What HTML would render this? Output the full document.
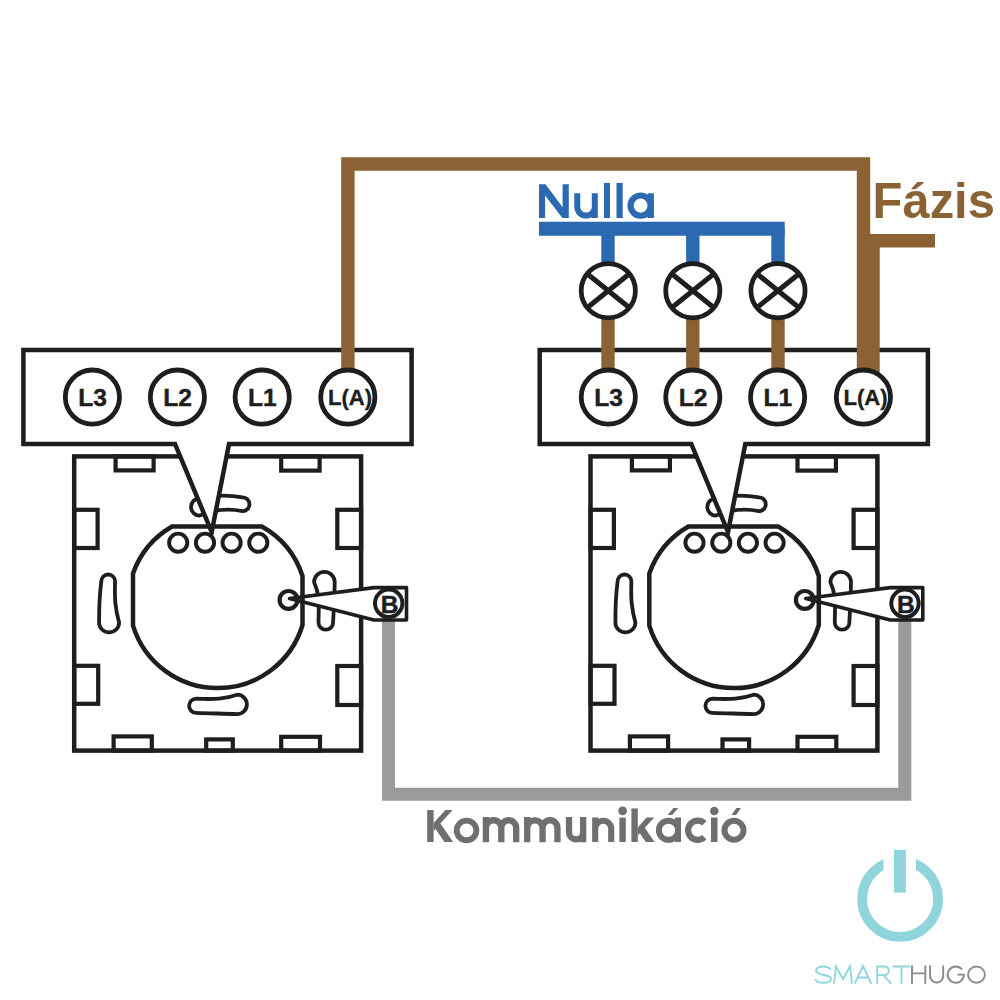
<!DOCTYPE html>
<html><head><meta charset="utf-8"><style>
html,body{margin:0;padding:0;background:#fff;width:1000px;height:1000px;overflow:hidden}
svg{display:block;font-family:"Liberation Sans",sans-serif}
</style></head><body>
<svg width="1000" height="1000" viewBox="0 0 1000 1000" font-family="Liberation Sans, sans-serif">
<rect width="1000" height="1000" fill="#fff"/>
<path d="M388.5,619 L388.5,794.2 L904.8,794.2 L904.8,619" fill="none" stroke="#9b9b9b" stroke-width="13" stroke-linejoin="miter"/>
<g><rect x="74.2" y="456.4" width="286.9" height="294.2" fill="#fff" stroke="#1e1e1e" stroke-width="4.5"/>
<rect x="115.6" y="456.4" width="38" height="14" fill="none" stroke="#1e1e1e" stroke-width="4.2"/>
<rect x="281.2" y="456.4" width="38.4" height="14.2" fill="none" stroke="#1e1e1e" stroke-width="4.2"/>
<rect x="74.2" y="509.8" width="23.4" height="38.2" fill="none" stroke="#1e1e1e" stroke-width="4.2"/>
<rect x="74.2" y="665.8" width="24" height="38" fill="none" stroke="#1e1e1e" stroke-width="4.2"/>
<rect x="337.3" y="509.8" width="23.8" height="38.2" fill="none" stroke="#1e1e1e" stroke-width="4.2"/>
<rect x="337.3" y="666" width="23.8" height="39" fill="none" stroke="#1e1e1e" stroke-width="4.2"/>
<rect x="113.6" y="736.4" width="38.2" height="14.2" fill="none" stroke="#1e1e1e" stroke-width="4.2"/>
<rect x="206.2" y="739.4" width="26.6" height="11.2" fill="none" stroke="#1e1e1e" stroke-width="4.2"/>
<rect x="281.2" y="736.8" width="38.8" height="13.8" fill="none" stroke="#1e1e1e" stroke-width="4.2"/>
<path d="M101.3,581.4 A6.9,6.9 0 0 1 115.1,581.4 C114.5,598 115,608 119.1,622.4 A10,10 0 0 1 99.1,622.4 C99,605 99.5,595 101.3,581.4 Z" fill="none" stroke="#1e1e1e" stroke-width="3.8"/>
<path d="M199.6,498.4 Q221,493.35 242.6,497.3 A6.9,6.9 0 0 1 242.6,511.1 Q221,506.65 199.6,515.6 A8.6,8.6 0 0 1 199.6,498.4 Z" fill="none" stroke="#1e1e1e" stroke-width="3.8"/>
<path d="M196.2,698.7 C215,699.5 225,699 237.2,694.7 A9.7,9.7 0 0 1 237.2,714.1 C225,713.5 210,713.5 196.2,712.9 A7.1,7.1 0 0 1 196.2,698.7 Z" fill="none" stroke="#1e1e1e" stroke-width="3.8"/>
<path d="M314.1,582.2 A10.3,10.3 0 0 1 334.7,582.2 C334.5,600 333.5,612 333.1,622.4 A7.3,7.3 0 0 1 318.5,622.4 C318.5,608 320.5,596 314.1,582.2 Z" fill="none" stroke="#1e1e1e" stroke-width="3.8"/>
<path d="M229,444 L411.6,444 L411.6,350 L23.4,350 L23.4,444 L175,444 L211.7,532 Z" fill="#fff" stroke="#1e1e1e" stroke-width="4.5" stroke-linejoin="miter" stroke-miterlimit="10"/>
<path d="M289.5,598.5 L374,587.6 L406.5,587.6 L406.5,620 L374,620 Z" fill="#fff" stroke="#1e1e1e" stroke-width="3.6" stroke-linejoin="round"/>
<path d="M172.1,526.5 L261.8,526.5 A88,88 0 0 1 302.5,576 L302.5,625 A88.6,88.6 0 0 1 133,625.7 L133,573.5 A88,88 0 0 1 172.1,526.5 Z" fill="none" stroke="#1e1e1e" stroke-width="4.5"/>
<circle cx="178.2" cy="542.7" r="9.1" fill="none" stroke="#1e1e1e" stroke-width="3.9"/>
<circle cx="205" cy="542.7" r="9.1" fill="none" stroke="#1e1e1e" stroke-width="3.9"/>
<circle cx="231.6" cy="542.7" r="9.1" fill="none" stroke="#1e1e1e" stroke-width="3.9"/>
<circle cx="258.3" cy="542.7" r="9.1" fill="none" stroke="#1e1e1e" stroke-width="3.9"/>
<circle cx="288.5" cy="599.9" r="8.9" fill="none" stroke="#1e1e1e" stroke-width="4.2"/>
<circle cx="388.7" cy="603.3" r="13.7" fill="#fff" stroke="#1e1e1e" stroke-width="4"/>
<text x="389.5" y="612.9" font-size="24.5" font-weight="bold" text-anchor="middle" fill="#1e1e1e" stroke="#1e1e1e" stroke-width="0.5">B</text></g>
<g transform="translate(516.3,0)"><rect x="74.2" y="456.4" width="286.9" height="294.2" fill="#fff" stroke="#1e1e1e" stroke-width="4.5"/>
<rect x="115.6" y="456.4" width="38" height="14" fill="none" stroke="#1e1e1e" stroke-width="4.2"/>
<rect x="281.2" y="456.4" width="38.4" height="14.2" fill="none" stroke="#1e1e1e" stroke-width="4.2"/>
<rect x="74.2" y="509.8" width="23.4" height="38.2" fill="none" stroke="#1e1e1e" stroke-width="4.2"/>
<rect x="74.2" y="665.8" width="24" height="38" fill="none" stroke="#1e1e1e" stroke-width="4.2"/>
<rect x="337.3" y="509.8" width="23.8" height="38.2" fill="none" stroke="#1e1e1e" stroke-width="4.2"/>
<rect x="337.3" y="666" width="23.8" height="39" fill="none" stroke="#1e1e1e" stroke-width="4.2"/>
<rect x="113.6" y="736.4" width="38.2" height="14.2" fill="none" stroke="#1e1e1e" stroke-width="4.2"/>
<rect x="206.2" y="739.4" width="26.6" height="11.2" fill="none" stroke="#1e1e1e" stroke-width="4.2"/>
<rect x="281.2" y="736.8" width="38.8" height="13.8" fill="none" stroke="#1e1e1e" stroke-width="4.2"/>
<path d="M101.3,581.4 A6.9,6.9 0 0 1 115.1,581.4 C114.5,598 115,608 119.1,622.4 A10,10 0 0 1 99.1,622.4 C99,605 99.5,595 101.3,581.4 Z" fill="none" stroke="#1e1e1e" stroke-width="3.8"/>
<path d="M199.6,498.4 Q221,493.35 242.6,497.3 A6.9,6.9 0 0 1 242.6,511.1 Q221,506.65 199.6,515.6 A8.6,8.6 0 0 1 199.6,498.4 Z" fill="none" stroke="#1e1e1e" stroke-width="3.8"/>
<path d="M196.2,698.7 C215,699.5 225,699 237.2,694.7 A9.7,9.7 0 0 1 237.2,714.1 C225,713.5 210,713.5 196.2,712.9 A7.1,7.1 0 0 1 196.2,698.7 Z" fill="none" stroke="#1e1e1e" stroke-width="3.8"/>
<path d="M314.1,582.2 A10.3,10.3 0 0 1 334.7,582.2 C334.5,600 333.5,612 333.1,622.4 A7.3,7.3 0 0 1 318.5,622.4 C318.5,608 320.5,596 314.1,582.2 Z" fill="none" stroke="#1e1e1e" stroke-width="3.8"/>
<path d="M229,444 L411.6,444 L411.6,350 L23.4,350 L23.4,444 L175,444 L211.7,532 Z" fill="#fff" stroke="#1e1e1e" stroke-width="4.5" stroke-linejoin="miter" stroke-miterlimit="10"/>
<path d="M289.5,598.5 L374,587.6 L406.5,587.6 L406.5,620 L374,620 Z" fill="#fff" stroke="#1e1e1e" stroke-width="3.6" stroke-linejoin="round"/>
<path d="M172.1,526.5 L261.8,526.5 A88,88 0 0 1 302.5,576 L302.5,625 A88.6,88.6 0 0 1 133,625.7 L133,573.5 A88,88 0 0 1 172.1,526.5 Z" fill="none" stroke="#1e1e1e" stroke-width="4.5"/>
<circle cx="178.2" cy="542.7" r="9.1" fill="none" stroke="#1e1e1e" stroke-width="3.9"/>
<circle cx="205" cy="542.7" r="9.1" fill="none" stroke="#1e1e1e" stroke-width="3.9"/>
<circle cx="231.6" cy="542.7" r="9.1" fill="none" stroke="#1e1e1e" stroke-width="3.9"/>
<circle cx="258.3" cy="542.7" r="9.1" fill="none" stroke="#1e1e1e" stroke-width="3.9"/>
<circle cx="288.5" cy="599.9" r="8.9" fill="none" stroke="#1e1e1e" stroke-width="4.2"/>
<circle cx="388.7" cy="603.3" r="13.7" fill="#fff" stroke="#1e1e1e" stroke-width="4"/>
<text x="389.5" y="612.9" font-size="24.5" font-weight="bold" text-anchor="middle" fill="#1e1e1e" stroke="#1e1e1e" stroke-width="0.5">B</text></g>
<path d="M539,228.8 L784.7,228.8" stroke="#2b6ab0" stroke-width="14" fill="none"/>
<line x1="608" y1="228" x2="608" y2="290" stroke="#2b6ab0" stroke-width="13.4"/>
<line x1="692.8" y1="228" x2="692.8" y2="290" stroke="#2b6ab0" stroke-width="13.4"/>
<line x1="778" y1="228" x2="778" y2="290" stroke="#2b6ab0" stroke-width="13.4"/>
<path d="M347.9,397 L347.9,164 L863.5,164 L863.5,397" fill="none" stroke="#8b6234" stroke-width="13.4" stroke-linejoin="miter"/>
<path d="M935,240.8 L873,240.8 L873,397" fill="none" stroke="#8b6234" stroke-width="13.4"/>
<line x1="608" y1="290" x2="608" y2="397" stroke="#8b6234" stroke-width="13.4"/>
<line x1="692.8" y1="290" x2="692.8" y2="397" stroke="#8b6234" stroke-width="13.4"/>
<line x1="778" y1="290" x2="778" y2="397" stroke="#8b6234" stroke-width="13.4"/>
<circle cx="608.3" cy="290.7" r="27.1" fill="#fff" stroke="#1e1e1e" stroke-width="4.8"/>
<path d="M587.8,274.2 L628.8,307.2 M628.8,274.2 L587.8,307.2" stroke="#1e1e1e" stroke-width="5"/>
<circle cx="692.8" cy="290.7" r="27.1" fill="#fff" stroke="#1e1e1e" stroke-width="4.8"/>
<path d="M672.3,274.2 L713.3,307.2 M713.3,274.2 L672.3,307.2" stroke="#1e1e1e" stroke-width="5"/>
<circle cx="778" cy="290.7" r="27.1" fill="#fff" stroke="#1e1e1e" stroke-width="4.8"/>
<path d="M757.5,274.2 L798.5,307.2 M798.5,274.2 L757.5,307.2" stroke="#1e1e1e" stroke-width="5"/>
<circle cx="92.4" cy="397.1" r="27.1" fill="#fff" stroke="#1e1e1e" stroke-width="4.8"/>
<text x="92.6" y="405.8" font-size="24.6" font-weight="bold" text-anchor="middle" fill="#1e1e1e" stroke="#1e1e1e" stroke-width="0.4">L3</text>
<circle cx="177.4" cy="397.1" r="27.1" fill="#fff" stroke="#1e1e1e" stroke-width="4.8"/>
<text x="177.6" y="405.8" font-size="24.6" font-weight="bold" text-anchor="middle" fill="#1e1e1e" stroke="#1e1e1e" stroke-width="0.4">L2</text>
<circle cx="262.2" cy="397.1" r="27.1" fill="#fff" stroke="#1e1e1e" stroke-width="4.8"/>
<text x="262.4" y="405.8" font-size="24.6" font-weight="bold" text-anchor="middle" fill="#1e1e1e" stroke="#1e1e1e" stroke-width="0.4">L1</text>
<circle cx="347.8" cy="397.1" r="27.1" fill="#fff" stroke="#1e1e1e" stroke-width="4.8"/>
<text x="350" y="404.8" font-size="22.1" font-weight="bold" text-anchor="middle" fill="#1e1e1e" stroke="#1e1e1e" stroke-width="0.35">L(A)</text>
<circle cx="608.3" cy="397.1" r="27.1" fill="#fff" stroke="#1e1e1e" stroke-width="4.8"/>
<text x="608.5" y="405.8" font-size="24.6" font-weight="bold" text-anchor="middle" fill="#1e1e1e" stroke="#1e1e1e" stroke-width="0.4">L3</text>
<circle cx="692.8" cy="397.1" r="27.1" fill="#fff" stroke="#1e1e1e" stroke-width="4.8"/>
<text x="693" y="405.8" font-size="24.6" font-weight="bold" text-anchor="middle" fill="#1e1e1e" stroke="#1e1e1e" stroke-width="0.4">L2</text>
<circle cx="777.6" cy="397.1" r="27.1" fill="#fff" stroke="#1e1e1e" stroke-width="4.8"/>
<text x="777.8" y="405.8" font-size="24.6" font-weight="bold" text-anchor="middle" fill="#1e1e1e" stroke="#1e1e1e" stroke-width="0.4">L1</text>
<circle cx="863.4" cy="397.1" r="27.1" fill="#fff" stroke="#1e1e1e" stroke-width="4.8"/>
<text x="865.6" y="404.8" font-size="22.1" font-weight="bold" text-anchor="middle" fill="#1e1e1e" stroke="#1e1e1e" stroke-width="0.35">L(A)</text>
<g fill="#2b6ab0" stroke="none">
<polygon points="539,218 539,184.2 545.5,184.2 562.6,207.3 562.6,184.2 568.8,184.2 568.8,218 562.4,218 545.1,195.6 545.1,218"/>
<path d="M577.25,193.3 V206.8 A8.775,8.775 0 0 0 594.8,206.8 V193.3 M594.8,206 V218" fill="none" stroke="#2b6ab0" stroke-width="6"/>
<rect x="604" y="182.9" width="6" height="35.1"/>
<rect x="616.5" y="182.9" width="6.2" height="35.1"/>
<circle cx="640.65" cy="205.6" r="10.1" fill="none" stroke="#2b6ab0" stroke-width="6.15"/>
<rect x="647.7" y="193.3" width="6.2" height="24.7"/>
</g>
<text transform="translate(872.6,217.9) scale(0.976,1)" font-size="50.1" font-weight="bold" fill="#8b6234">Fázis</text>
<g fill="#6f6f6f" stroke="none">
<rect x="427.2" y="810.1" width="6.4" height="31.9"/>
<polygon points="445.4,810.1 452.6,810.1 433.6,831 433.6,823.1"/>
<polygon points="444.4,842 453.1,842 440.4,823.5 433.6,826.3"/>
<circle cx="466.55" cy="830.45" r="9.8" fill="none" stroke="#6f6f6f" stroke-width="5.9"/>
<path d="M485.9,842.2 V817.1 M485.9,827.95 A7.7,7.7 0 0 1 501.3,827.95 V842.2 M501.3,827.7 A7.45,7.45 0 0 1 516.2,827.7 V842.2" fill="none" stroke="#6f6f6f" stroke-width="6.3"/>
<path d="M527.2,842.2 V817.1 M527.2,827.95 A7.675,7.675 0 0 1 542.55,827.95 V842.2 M542.55,827.7 A7.45,7.45 0 0 1 557.45,827.7 V842.2" fill="none" stroke="#6f6f6f" stroke-width="6.3"/>
<path d="M569,817.1 V832.3 A7.075,7.075 0 0 0 583.15,832.3 M583.15,817.1 V842.2" fill="none" stroke="#6f6f6f" stroke-width="6.3"/>
<path d="M595.2,842 V817.6 M595.2,828.7 A8,8 0 0 1 611.2,828.7 V842" fill="none" stroke="#6f6f6f" stroke-width="6.1"/>
<rect x="619.4" y="817.6" width="6.4" height="24.4"/>
<circle cx="622.6" cy="810.8" r="4.4"/>
<rect x="631.4" y="808.4" width="6.4" height="33.6"/>
<polygon points="646.6,817.6 654.2,817.6 637.8,835.5 637.8,827.5"/>
<polygon points="645.8,842 654.6,842 644.8,827.85 637.8,830.4"/>
<circle cx="668.5" cy="830.25" r="9.6" fill="none" stroke="#6f6f6f" stroke-width="6"/>
<rect x="675" y="817.5" width="6" height="24.5"/>
<polygon points="667.5,815 672.2,815 678.2,808 673.5,808"/>
<path d="M704.37,823.23 A9.65,9.65 0 1 0 704.37,837.27" fill="none" stroke="#6f6f6f" stroke-width="6.2"/>
<rect x="711" y="817.5" width="6.5" height="24.5"/>
<circle cx="714.3" cy="811" r="4.3"/>
<circle cx="734" cy="830.25" r="9.5" fill="none" stroke="#6f6f6f" stroke-width="6"/>
<polygon points="731.5,815 736.2,815 741,808 736.3,808"/>
</g>
<circle cx="900.1" cy="898.9" r="38" fill="none" stroke="#8fd5db" stroke-width="9.9"/>
<rect x="883.5" y="850" width="32.5" height="26" fill="#fff"/>
<rect x="894" y="849.9" width="11.9" height="42.7" fill="#8fd5db"/>
<g fill="none" stroke-width="1.9" stroke-linejoin="miter">
<g stroke="#8fd5db">
<path d="M830.5,969.8 C829,967.3 826,966.5 823,966.5 C819,966.5 816,968.3 816,970.6 C816,973.3 819,974 823,974.7 C827.5,975.4 831,976.5 831,979 C831,981.3 827.5,982.8 823,982.8 C819.5,982.8 816.5,981.6 815,979.3"/>
<path d="M834,983.7 L836,966.5 L843,979 L850,966.5 L852,983.7"/>
<path d="M854.8,983.7 L863,966 L871.3,983.7 M857.3,977.5 H868.7"/>
<path d="M877.2,983.7 V966.5 H884.5 A4.3,4.3 0 0 1 884.5,975.1 H877.2 M883.5,975.1 L891,983.7"/>
<path d="M892.7,966.5 H910 M901.5,966.5 V983.7"/>
</g>
<g stroke="#8a8a8a">
<path d="M912,965.6 V983.7 M925.3,965.6 V983.7 M912,973.4 H925.3"/>
<path d="M930.1,965.6 V976 A6.55,6.55 0 0 0 943.2,976 V965.6"/>
<path d="M961.95,969.44 A8.1,8.1 0 1 0 963.85,974.65 H957.5"/>
<ellipse cx="976.45" cy="974.65" rx="8.4" ry="8.1"/>
</g>
</g>
</svg>
</body></html>
